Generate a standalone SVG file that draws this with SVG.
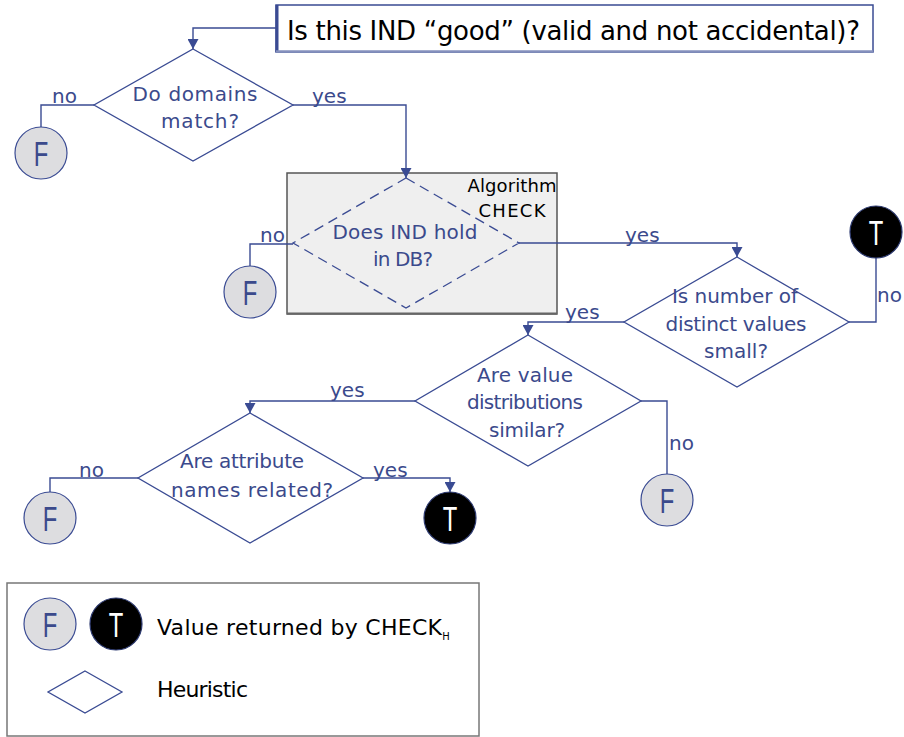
<svg xmlns="http://www.w3.org/2000/svg" width="904" height="737" viewBox="0 0 904 737">
  <style>
    .lbl { font-family: "DejaVu Sans", "Liberation Sans", sans-serif; font-size: 20px; fill: #3b4a8c; text-anchor: middle; }
    .edge-lbl { font-family: "DejaVu Sans", "Liberation Sans", sans-serif; font-size: 20px; fill: #3b4a8c; }
    .dark { font-family: "DejaVu Sans", "Liberation Sans", sans-serif; fill: #000; }
    .diamond { fill: #fff; stroke: #3a4b93; stroke-width: 1.3; }
    .diamond-dash { fill: none; stroke: #3a4b93; stroke-width: 1.3; stroke-dasharray: 10 6; }
    .conn { fill: none; stroke: #3a4b93; stroke-width: 1.4; }
    .f-circ { fill: #dddde0; stroke: #3a4b93; stroke-width: 1.2; }
    .t-circ { fill: #000; stroke: #2d3a70; stroke-width: 1.2; }
    .f-txt { font-family: "Liberation Sans", "DejaVu Sans", sans-serif; font-size: 35px; fill: #3b4a8c; text-anchor: middle; }
    .t-txt { font-family: "Liberation Sans", "DejaVu Sans", sans-serif; font-size: 35px; fill: #fff; text-anchor: middle; }
  </style>
  <defs>
    <marker id="arrow" markerUnits="userSpaceOnUse" markerWidth="11" markerHeight="11" refX="10" refY="5.5" orient="auto">
      <path d="M0,0 L10,5.5 L0,11 z" fill="#3a4b93"/>
    </marker>
  </defs>

  <rect width="904" height="737" fill="#fff"/>

  <!-- Question box -->
  <g id="question">
    <rect x="276" y="5" width="597" height="47" fill="#fff" stroke="#3a4b93" stroke-width="1.5"/>
    <line x1="277" y1="5" x2="277" y2="52" stroke="#3a4b93" stroke-width="3"/>
    <line x1="276" y1="51.5" x2="873" y2="51.5" stroke="#8590bd" stroke-width="2.5"/>
    <text class="dark" x="287" y="40" font-size="26" textLength="573">Is this IND “good” (valid and not accidental)?</text>
  </g>

  <!-- Algorithm CHECK container -->
  <g id="check-box">
    <rect x="287" y="173" width="270" height="141" fill="#efefef" stroke="#555" stroke-width="1.5"/>
    <line x1="287" y1="313.5" x2="557" y2="313.5" stroke="#666" stroke-width="2"/>
    <text class="dark" x="512" y="192" font-size="18" text-anchor="middle" textLength="89">Algorithm</text>
    <text class="dark" x="512" y="217" font-size="18" text-anchor="middle" textLength="67">CHECK</text>
  </g>

  <!-- Connectors -->
  <g id="connectors">
    <path class="conn" d="M276,28 H193 V49" marker-end="url(#arrow)"/>
    <path class="conn" d="M94,105 H41 V127"/>
    <path class="conn" d="M293,105 H406 V178" marker-end="url(#arrow)"/>
    <path class="conn" d="M293,244 H250 V266"/>
    <path class="conn" d="M519,243 H737 V257" marker-end="url(#arrow)"/>
    <path class="conn" d="M849,322 H876 V258"/>
    <path class="conn" d="M624,322 H528 V335" marker-end="url(#arrow)"/>
    <path class="conn" d="M641,401 H667 V474"/>
    <path class="conn" d="M415,401 H250 V413" marker-end="url(#arrow)"/>
    <path class="conn" d="M138,478 H50 V492"/>
    <path class="conn" d="M363,478 H450 V492" marker-end="url(#arrow)"/>

    <text class="edge-lbl" x="52" y="103">no</text>
    <text class="edge-lbl" x="312" y="103">yes</text>
    <text class="edge-lbl" x="260" y="242">no</text>
    <text class="edge-lbl" x="625" y="242">yes</text>
    <text class="edge-lbl" x="877" y="302">no</text>
    <text class="edge-lbl" x="565" y="319">yes</text>
    <text class="edge-lbl" x="669" y="450">no</text>
    <text class="edge-lbl" x="330" y="397">yes</text>
    <text class="edge-lbl" x="79" y="477">no</text>
    <text class="edge-lbl" x="373" y="477">yes</text>
  </g>

  <!-- Decisions -->
  <g id="domains-match">
    <polygon class="diamond" points="193,49 293,105 193,161 94,105"/>
    <text class="lbl" x="195" y="101" textLength="125">Do domains</text>
    <text class="lbl" x="200" y="128" textLength="78">match?</text>
  </g>

  <g id="ind-holds">
    <polygon class="diamond-dash" points="406,178 519,243 406,308 293,243"/>
    <text class="lbl" x="405" y="239" textLength="145">Does IND hold</text>
    <text class="lbl" x="403" y="266" textLength="60">in DB?</text>
  </g>

  <g id="few-distinct">
    <polygon class="diamond" points="737,257 849,322 737,387 624,322"/>
    <text class="lbl" x="735" y="303" textLength="126">Is number of</text>
    <text class="lbl" x="736" y="331" textLength="141">distinct values</text>
    <text class="lbl" x="736" y="358" textLength="64">small?</text>
  </g>

  <g id="similar-dist">
    <polygon class="diamond" points="528,335 641,401 528,466 415,401"/>
    <text class="lbl" x="525" y="382" textLength="96">Are value</text>
    <text class="lbl" x="525" y="409" textLength="116">distributions</text>
    <text class="lbl" x="527" y="437" textLength="76">similar?</text>
  </g>

  <g id="names-related">
    <polygon class="diamond" points="250,413 363,478 250,543 138,478"/>
    <text class="lbl" x="242" y="468" textLength="124">Are attribute</text>
    <text class="lbl" x="252" y="497" textLength="162">names related?</text>
  </g>

  <!-- Results -->
  <g id="f-domains">
    <circle class="f-circ" cx="41" cy="153" r="26"/>
    <text class="f-txt" transform="translate(41,166) scale(0.68,1)">F</text>
  </g>
  <g id="f-ind">
    <circle class="f-circ" cx="250" cy="292" r="26"/>
    <text class="f-txt" transform="translate(250,305) scale(0.68,1)">F</text>
  </g>
  <g id="t-distinct">
    <circle class="t-circ" cx="876" cy="232" r="26"/>
    <text class="t-txt" transform="translate(876,245) scale(0.68,1)">T</text>
  </g>
  <g id="f-dist">
    <circle class="f-circ" cx="667" cy="500" r="26"/>
    <text class="f-txt" transform="translate(667,513) scale(0.68,1)">F</text>
  </g>
  <g id="f-names">
    <circle class="f-circ" cx="50" cy="518" r="26"/>
    <text class="f-txt" transform="translate(50,531) scale(0.68,1)">F</text>
  </g>
  <g id="t-names">
    <circle class="t-circ" cx="450" cy="518" r="26"/>
    <text class="t-txt" transform="translate(450,531) scale(0.68,1)">T</text>
  </g>

  <!-- Legend -->
  <g id="legend">
    <rect x="7" y="583" width="472" height="153" fill="#fff" stroke="#777" stroke-width="1.5"/>
    <circle class="f-circ" cx="50" cy="624" r="26"/>
    <text class="f-txt" transform="translate(50,637) scale(0.68,1)">F</text>
    <circle class="t-circ" cx="116" cy="624" r="26"/>
    <text class="t-txt" transform="translate(116,637) scale(0.68,1)">T</text>
    <text class="dark" x="157" y="635" font-size="22"><tspan textLength="285">Value returned by CHECK</tspan><tspan font-size="10" dy="5">H</tspan></text>
    <polygon class="diamond" points="85,671 122,692 85,713 48,692"/>
    <text class="dark" x="157" y="697" font-size="22" textLength="91">Heuristic</text>
  </g>
</svg>
